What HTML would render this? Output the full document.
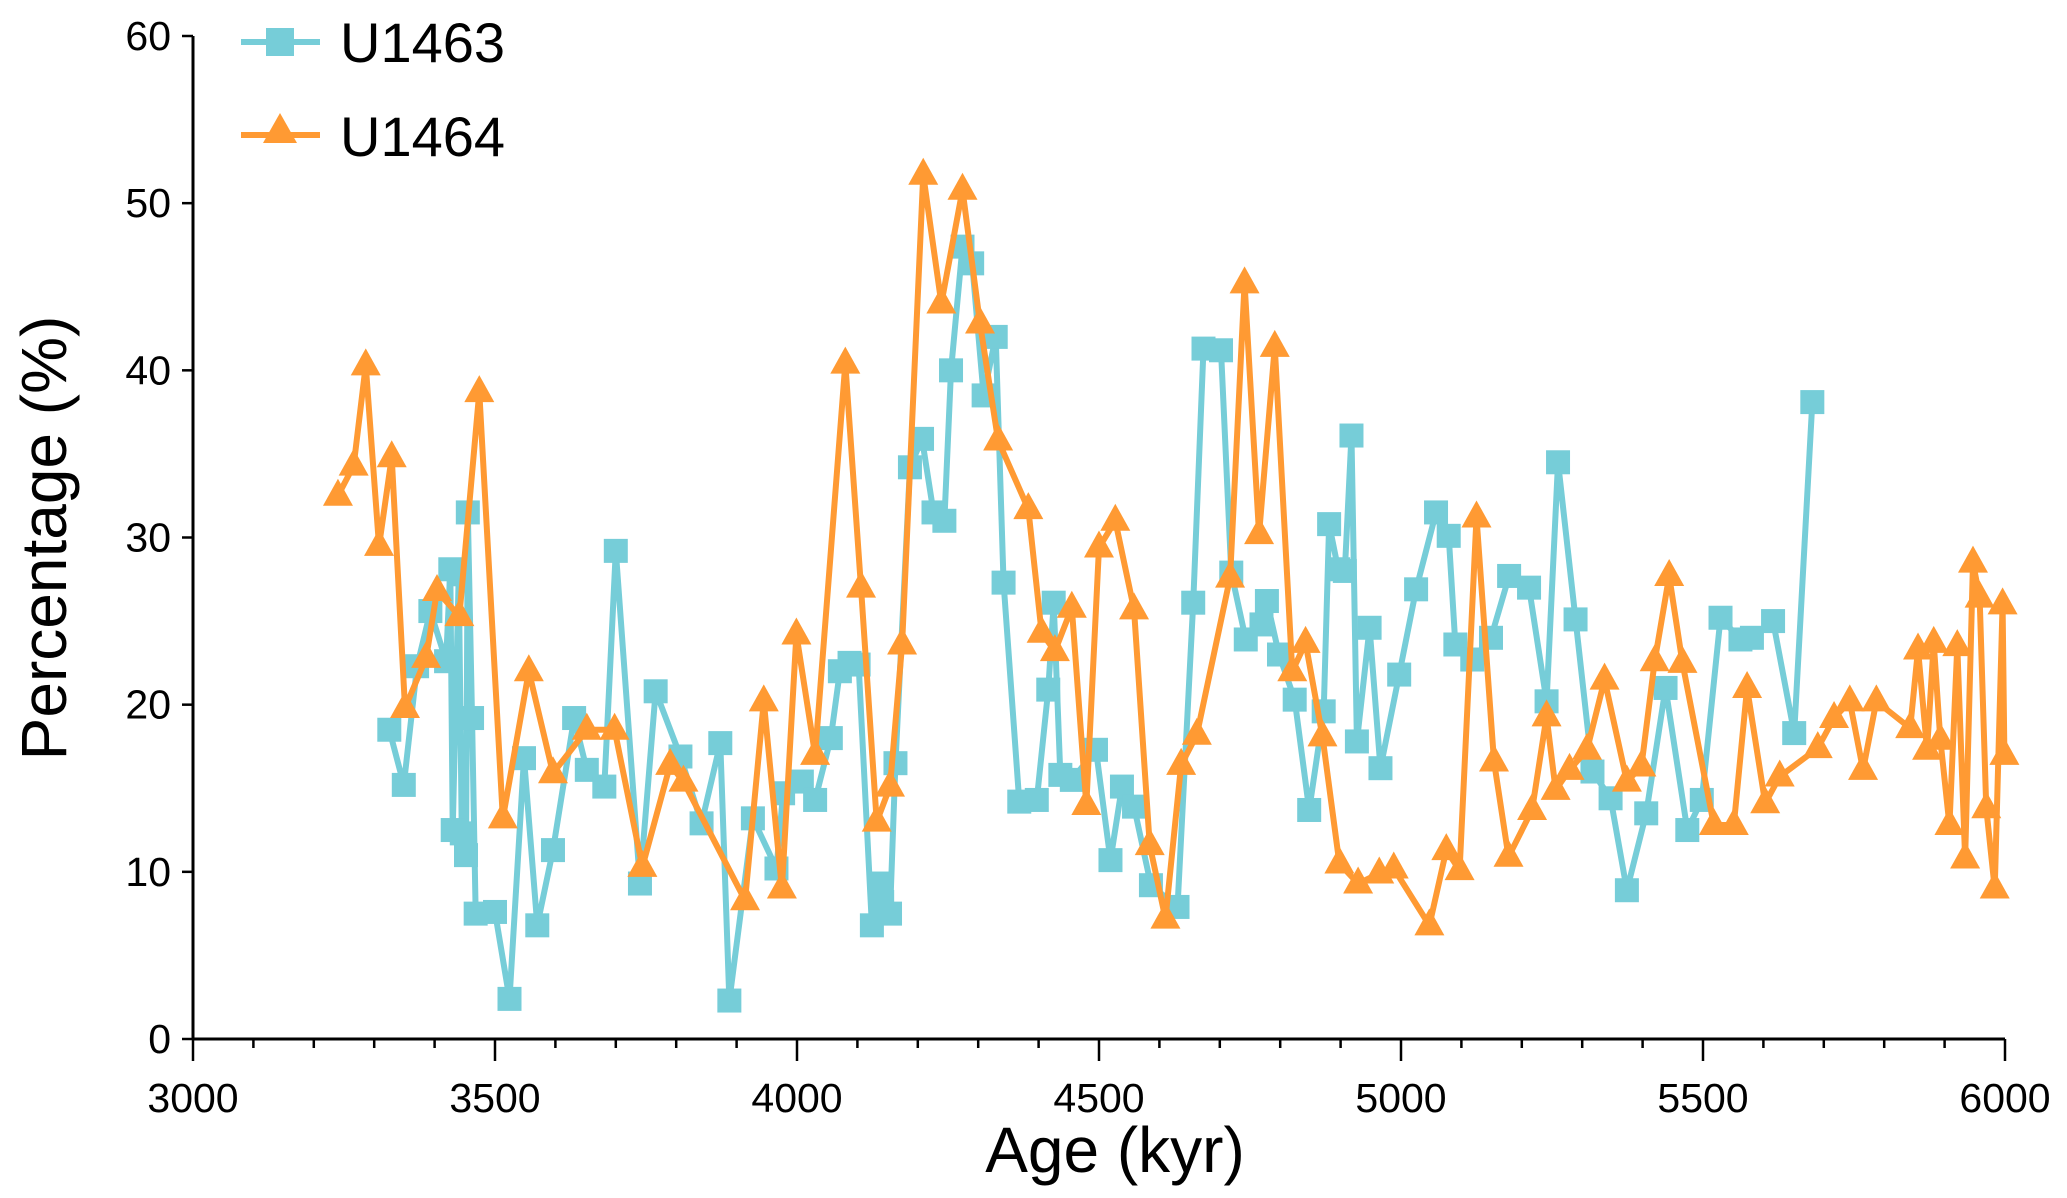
<!DOCTYPE html>
<html><head><meta charset="utf-8">
<style>
html,body{margin:0;padding:0;background:#fff;}
svg{display:block;font-family:"Liberation Sans",Arial,sans-serif;}
</style></head>
<body>
<svg id="chart" width="2067" height="1198" viewBox="0 0 2067 1198" xmlns="http://www.w3.org/2000/svg">
<g id="axes"></g>
<g id="series"></g>
<g id="legend"></g>
<text x="1115" y="1172" font-size="64" text-anchor="middle" fill="#000">Age (kyr)</text>
<text transform="translate(66,538) rotate(-90)" font-size="64" text-anchor="middle" fill="#000">Percentage (%)</text>
</svg>
<script>
const xTicks = [3000,3500,4000,4500,5000,5500,6000];
const yTicks = [0,10,20,30,40,50,60];
const u1463Age = [3325,3349,3371,3393,3419,3426,3430,3440,3445,3452,3455,3462,3468,3500,3524,3548,3570,3596,3631,3652,3681,3700,3740,3766,3807,3842,3873,3888,3927,3966,3977,4008,4030,4056,4071,4087,4102,4124,4137,4141,4154,4163,4187,4207,4226,4244,4255,4274,4290,4309,4329,4342,4368,4397,4416,4425,4436,4455,4495,4519,4538,4558,4586,4630,4656,4673,4702,4719,4743,4769,4778,4798,4824,4848,4872,4881,4896,4907,4918,4927,4948,4966,4997,5025,5058,5079,5090,5118,5149,5179,5212,5241,5260,5289,5317,5347,5374,5406,5438,5474,5498,5529,5562,5581,5616,5651,5681];
const u1463Pct = [18.5,15.2,22.3,25.6,22.6,28.1,12.5,27.8,12.3,11.0,31.5,19.2,7.5,7.6,2.4,16.8,6.8,11.3,19.2,16.1,15.1,29.2,9.3,20.8,16.9,12.9,17.7,2.3,13.2,10.2,14.7,15.4,14.3,18.0,22.0,22.5,22.4,6.8,9.3,8.2,7.5,16.5,34.2,35.9,31.5,31.0,40.0,47.4,46.4,38.5,42.0,27.3,14.2,14.3,20.9,26.1,15.8,15.5,17.3,10.7,15.1,13.9,9.2,7.9,26.1,41.3,41.2,27.9,23.9,24.8,26.2,23.0,20.3,13.7,19.6,30.8,28.1,28.0,36.1,17.8,24.6,16.2,21.8,26.9,31.5,30.1,23.6,22.7,24.0,27.7,27.0,20.2,34.5,25.1,16.0,14.4,8.9,13.5,21.0,12.5,14.3,25.2,23.9,24.0,25.0,18.3,38.1];
const u1464Age = [3240,3266,3286,3308,3329,3351,3386,3404,3441,3474,3513,3556,3596,3652,3698,3744,3790,3812,3914,3945,3975,3999,4030,4080,4106,4132,4154,4174,4209,4239,4274,4303,4333,4383,4405,4427,4455,4479,4500,4527,4558,4584,4610,4636,4662,4717,4741,4765,4791,4820,4842,4870,4898,4929,4964,4988,5047,5075,5097,5125,5154,5178,5217,5241,5256,5279,5308,5337,5374,5398,5420,5444,5466,5518,5551,5573,5603,5627,5690,5717,5743,5765,5787,5843,5856,5871,5882,5893,5908,5921,5934,5947,5958,5969,5983,5996,5999];
const u1464Pct = [32.5,34.3,40.3,29.5,34.8,19.8,22.8,26.8,25.3,38.7,13.2,22.0,15.9,18.5,18.5,10.3,16.4,15.4,8.3,20.2,9.0,24.2,17.0,40.4,27.0,13.0,15.1,23.6,51.7,44.0,50.8,42.8,35.8,31.7,24.3,23.2,25.8,14.0,29.4,31.0,25.7,11.6,7.2,16.4,18.2,27.6,45.2,30.2,41.4,22.0,23.7,18.1,10.5,9.3,9.9,10.2,6.8,11.3,10.1,31.2,16.6,10.9,13.7,19.3,14.9,16.1,17.3,21.5,15.4,16.3,22.6,27.7,22.5,12.8,12.8,21.0,14.1,15.7,17.4,19.2,20.2,16.1,20.2,18.6,23.3,17.3,23.7,17.9,12.8,23.5,10.8,28.5,26.4,13.8,9.0,26.0,17.0];

const NS='http://www.w3.org/2000/svg';
const X0=193,X1=2005,Y0=1039,Y1=36;
function xs(v){return X0+(v-3000)/3000*(X1-X0);}
function ys(v){return Y0-(v/60)*(Y0-Y1);}
function mk(tag,attrs,parent){const e=document.createElementNS(NS,tag);for(const k in attrs)e.setAttribute(k,attrs[k]);parent.appendChild(e);return e;}
const axes=document.getElementById('axes');
let a=mk('line',{x1:X0,y1:Y0,x2:X1,y2:Y0,stroke:'#000','stroke-width':3},axes);


a=mk('line',{x1:X0,y1:Y0+1,x2:X0,y2:Y1,stroke:'#000','stroke-width':3},axes);


for(let v=3100;v<6000;v+=100){
  if(v%500===0)continue;
  const t=mk('line',{x1:xs(v),y1:Y0,x2:xs(v),y2:Y0+9,stroke:'#000','stroke-width':2.5},axes);
  
  
}
xTicks.forEach(v=>{
  const t=mk('line',{x1:xs(v),y1:Y0,x2:xs(v),y2:Y0+22,stroke:'#000','stroke-width':2.5},axes);
  
  
  const l=mk('text',{x:xs(v),y:Y0+73,'font-size':41,'text-anchor':'middle',fill:'#000'},axes);
  l.textContent=v;
  
  
});
yTicks.forEach(v=>{
  const t=mk('line',{x1:X0-11,y1:ys(v),x2:X0,y2:ys(v),stroke:'#000','stroke-width':2.5},axes);
  
  
  const l=mk('text',{x:X0-22,y:ys(v)+14,'font-size':41,'text-anchor':'end',fill:'#000'},axes);
  l.textContent=v;
  
  
});
const C1='#76CDD8',C2='#FF9A33';
const ser=document.getElementById('series');
function sq(cx,cy,p){return mk('rect',{x:cx-12,y:cy-12,width:24,height:24,fill:C1},p);}
function tri(cx,cy,p){return mk('polygon',{points:`${cx},${cy-17} ${cx-15},${cy+10} ${cx+15},${cy+10}`,fill:C2},p);}
const g1=mk('g',{},ser);


let pl=mk('polyline',{points:u1463Age.map((v,i)=>xs(v)+','+ys(u1463Pct[i])).join(' '),fill:'none',stroke:C1,'stroke-width':6,'stroke-linejoin':'round'},g1);


u1463Age.forEach((v,i)=>{const m=sq(xs(v),ys(u1463Pct[i]),g1);
  
  });
const g2=mk('g',{},ser);


pl=mk('polyline',{points:u1464Age.map((v,i)=>xs(v)+','+ys(u1464Pct[i])).join(' '),fill:'none',stroke:C2,'stroke-width':6,'stroke-linejoin':'round'},g2);


u1464Age.forEach((v,i)=>{const m=tri(xs(v),ys(u1464Pct[i]),g2);
  
  });
const lg=document.getElementById('legend');
let e1=mk('g',{},lg);


mk('line',{x1:241,y1:42,x2:320,y2:42,stroke:C1,'stroke-width':6},e1);
mk('rect',{x:266,y:28,width:28,height:28,fill:C1},e1);
let t1=mk('text',{x:340,y:62,'font-size':56,fill:'#000'},e1);t1.textContent='U1463';
let e2=mk('g',{},lg);


mk('line',{x1:241,y1:135,x2:320,y2:135,stroke:C2,'stroke-width':6},e2);
mk('polygon',{points:'280,113 263,143 297,143',fill:C2},e2);
let t2=mk('text',{x:340,y:156,'font-size':56,fill:'#000'},e2);t2.textContent='U1464';
</script>
</body></html>
